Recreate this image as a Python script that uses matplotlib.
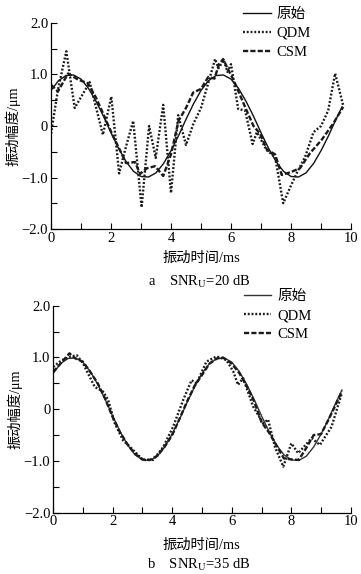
"""
Two stacked panels: original vibration signal vs. QDM / CSM recoveries
at SNR_U = 20 dB (a) and 35 dB (b).
"""

import matplotlib
matplotlib.use("Agg")
import matplotlib.pyplot as plt
from matplotlib.ticker import MultipleLocator, FuncFormatter

plt.rcParams["font.family"] = ["Liberation Serif", "Noto Sans CJK SC"]
plt.rcParams["mathtext.fontset"] = "stix"
plt.rcParams["axes.unicode_minus"] = True

# original signal (same in both panels)
orig_t = [0.0, 0.25, 0.5, 0.75, 1.0, 1.25, 1.5, 1.75, 2.0, 2.25, 2.5, 2.75,
          3.0, 3.25, 3.5, 3.75, 4.0, 4.25, 4.5, 4.75, 5.0, 5.25, 5.5, 5.75,
          6.0, 6.25, 6.5, 6.75, 7.0, 7.25, 7.5, 7.75, 8.0, 8.25, 8.5, 8.75,
          9.0, 9.25, 9.5, 9.7]
orig_v = [0.69, 0.88, 0.98, 0.99, 0.91, 0.73, 0.48, 0.19, -0.13, -0.43, -0.69, -0.88,
          -0.98, -0.99, -0.91, -0.73, -0.48, -0.19, 0.13, 0.43, 0.69, 0.88, 0.98, 0.99,
          0.91, 0.73, 0.48, 0.19, -0.13, -0.43, -0.69, -0.88, -0.98, -0.99, -0.91, -0.73,
          -0.48, -0.19, 0.13, 0.37]

# panel a: SNR_U = 20 dB
qdm_t_a = [0.0, 0.23, 0.51, 0.79, 1.29, 1.73, 2.01, 2.27, 2.5, 2.74, 3.02, 3.27,
           3.49, 3.74, 4.0, 4.24, 4.5, 4.75, 5.0, 5.25, 5.47, 5.58, 5.76, 5.88,
           6.0, 6.24, 6.47, 6.72, 6.86, 7.19, 7.47, 7.74, 7.98, 8.22, 8.47, 8.75,
           9.0, 9.24, 9.47, 9.74]
qdm_v_a = [-0.15, 0.7, 1.45, 0.35, 0.85, -0.17, 0.57, -0.92, -0.4, 0.1, -1.58, 0.0,
           -0.62, 0.41, -1.3, 0.21, -0.37, 0.05, 0.35, 0.85, 1.3, 1.12, 1.28, 1.05,
           1.2, 0.33, 0.3, -0.35, -0.12, -0.47, -0.6, -1.5, -1.18, -0.88, -0.6, -0.12,
           0.0, 0.3, 1.02, 0.4]
csm_t_a = [0.0, 0.23, 0.57, 0.9, 1.23, 1.5, 1.73, 2.07, 2.35, 2.5, 2.8, 2.97,
           3.2, 3.47, 3.74, 4.0, 4.25, 4.5, 4.74, 5.0, 5.24, 5.45, 5.6, 5.74,
           5.9, 6.08, 6.3, 6.52, 6.75, 6.97, 7.2, 7.47, 7.69, 7.97, 8.3, 8.63,
           9.02, 9.41, 9.74]
csm_v_a = [0.8, 0.67, 1.02, 0.9, 0.83, 0.55, 0.25, -0.2, -0.53, -0.72, -0.7, -0.93,
           -0.82, -0.78, -0.97, -0.55, 0.1, 0.35, 0.65, 0.72, 0.95, 0.92, 1.2, 1.3,
           1.1, 0.9, 0.6, 0.3, 0.0, -0.15, -0.46, -0.55, -0.95, -0.9, -0.82, -0.53,
           -0.27, 0.05, 0.37]

# panel b: SNR_U = 35 dB
qdm_t_b = [0.0, 0.3, 0.6, 0.8, 1.0, 1.4, 1.68, 1.85, 2.07, 2.35, 2.69, 3.02,
           3.36, 3.7, 4.03, 4.37, 4.65, 4.82, 5.15, 5.49, 5.82, 6.05, 6.21, 6.38,
           6.72, 7.05, 7.22, 7.45, 7.73, 8.0, 8.23, 8.68, 8.96, 9.35, 9.69]
qdm_v_b = [0.82, 0.95, 1.02, 1.04, 0.89, 0.43, 0.34, 0.18, -0.27, -0.6, -0.79, -0.98,
           -0.98, -0.73, -0.34, 0.18, 0.56, 0.5, 0.92, 1.02, 0.95, 0.73, 0.47, 0.6,
           0.05, -0.27, -0.2, -0.73, -1.11, -0.66, -0.85, -0.56, -0.69, -0.34, 0.3]
csm_t_b = [0.0, 0.25, 0.55, 0.75, 1.0, 1.25, 1.5, 1.75, 2.0, 2.25, 2.5, 2.75,
           3.0, 3.25, 3.5, 3.75, 4.0, 4.25, 4.5, 4.75, 5.0, 5.25, 5.5, 5.7,
           6.0, 6.25, 6.5, 6.75, 7.0, 7.25, 7.5, 7.75, 8.0, 8.25, 8.5, 8.75,
           9.0, 9.25, 9.5, 9.7]
csm_v_b = [0.72, 0.88, 1.08, 0.98, 0.92, 0.72, 0.5, 0.2, -0.15, -0.45, -0.68, -0.86,
           -0.97, -0.98, -0.9, -0.72, -0.5, -0.18, 0.15, 0.45, 0.66, 0.88, 0.98, 1.0,
           0.88, 0.7, 0.45, 0.15, -0.25, -0.45, -0.7, -0.95, -0.97, -0.98, -0.75, -0.5,
           -0.48, -0.2, 0.1, 0.35]

legend_labels = ["原始", "QDM", "CSM"]
yticks_major = [-2.0, -1.0, 0.0, 1.0, 2.0]


def fmt_y(v, pos):
    if abs(v) < 1e-9:
        return "0"
    return f"{v:.1f}".replace("-", "\u2212")


def draw_panel(ax, qt, qv, ct, cv, orig_color):
    ax.plot(orig_t, orig_v, color=orig_color, lw=1.0, label=legend_labels[0])
    ax.plot(qt, qv, color="#1a1a1a", lw=1.7, linestyle=(0, (0.8, 0.8)),
            label=legend_labels[1])
    ax.plot(ct, cv, color="#1a1a1a", lw=1.7, linestyle=(0, (2.2, 0.9)),
            label=legend_labels[2])
    ax.set_xlim(0, 10)
    ax.set_ylim(-2.0, 2.0)
    ax.set_yticks(yticks_major)
    ax.yaxis.set_minor_locator(MultipleLocator(0.5))
    ax.xaxis.set_major_locator(MultipleLocator(2))
    ax.xaxis.set_minor_locator(MultipleLocator(1))
    ax.yaxis.set_major_formatter(FuncFormatter(fmt_y))
    for s in ("top", "right"):
        ax.spines[s].set_visible(False)
    for s in ("left", "bottom"):
        ax.spines[s].set_linewidth(0.9)
    ax.tick_params(which="both", direction="in", length=4, width=0.8,
                   labelsize=10.5, pad=2)
    ax.set_ylabel("振动幅度/μm", fontsize=10.3, labelpad=1)
    ax.legend(loc="upper left", bbox_to_anchor=(0.64, 1.075), frameon=False,
              fontsize=10.5, handlelength=1.9, handletextpad=0.4,
              labelspacing=0.4, borderpad=0, borderaxespad=0)


fig = plt.figure(figsize=(3.61, 5.74), dpi=100)
ax_a = fig.add_axes([0.1413, 0.601, 0.831, 0.359])
ax_b = fig.add_axes([0.147, 0.1068, 0.825, 0.3606])

draw_panel(ax_a, qdm_t_a, qdm_v_a, csm_t_a, csm_v_a, "#111111")
draw_panel(ax_b, qdm_t_b, qdm_v_b, csm_t_b, csm_v_b, "#333333")

fig.text(0.557, 0.5505, "振动时间/ms", ha="center", va="center", fontsize=10.3)
fig.text(0.551, 0.5087, "a    SNR$_{\\mathrm{U}}$=20 dB", ha="center",
         va="center", fontsize=10.5)
fig.text(0.557, 0.0505, "振动时间/ms", ha="center", va="center", fontsize=10.3)
fig.text(0.551, 0.0157, "b    SNR$_{\\mathrm{U}}$=35 dB", ha="center",
         va="center", fontsize=10.5)

fig.savefig("out.png", dpi=100)
plt.close(fig)
